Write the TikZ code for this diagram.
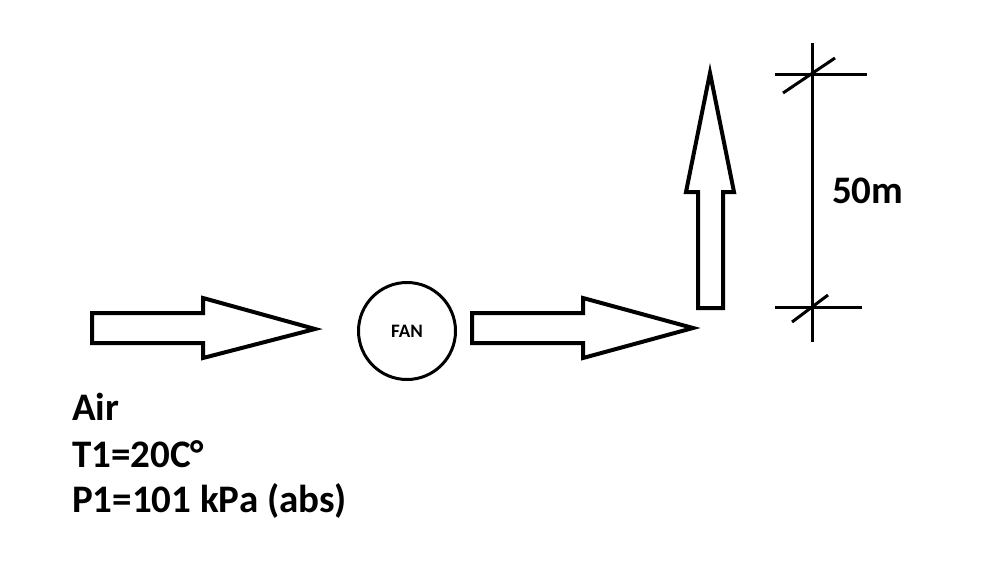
\documentclass[tikz,border=0pt]{standalone}
\usepackage{fontspec}
\setmainfont{Carlito}
\begin{document}
\begin{tikzpicture}[x=1pt,y=-1pt,
  blockarrow/.style={draw=black,line width=4pt,fill=white,line join=miter},
  dimline/.style={draw=black,line width=3pt},
  label/.style={font=\bfseries\fontsize{39}{47}\selectfont,inner sep=0pt,anchor=base west}]
\useasboundingbox[fill=white] (0,0) rectangle (1000,578);
% inlet arrow
\draw[blockarrow] (92,313) -- (203,313) -- (203,298) -- (315,329) -- (203,358) -- (203,343) -- (92,343) -- cycle;
% fan
\node[draw=black,line width=3pt,circle,minimum size=97pt,inner sep=0pt,font=\bfseries\fontsize{19}{22}\selectfont] (fan) at (407,331) {FAN};
% outlet arrow
\draw[blockarrow] (472,313) -- (583,313) -- (583,298) -- (693,328) -- (583,358) -- (583,343) -- (472,343) -- cycle;
% vertical arrow
\draw[blockarrow] (698,308) -- (698,192) -- (686,192) -- (710,73) -- (734,192) -- (723,192) -- (723,308) -- cycle;
% dimension
\coordinate (dtop) at (812,43);
\coordinate (dbot) at (812,342);
\draw[dimline] (dtop) -- (dbot);
\draw[dimline] (775,74) -- (867,74);
\draw[dimline] (783,93) -- (835,58);
\draw[dimline] (775,307) -- (862,307);
\draw[dimline] (792,322) -- (828,295);
\node[label] (dim) at (832,203) {50m};
% texts
\node[label] (air) at (72,420) {Air};
\node[label] (t1) at (72,467) {T1=20C°};
\node[label] (p1) at (72,512) {P1=101 kPa (abs)};
\end{tikzpicture}
\end{document}
